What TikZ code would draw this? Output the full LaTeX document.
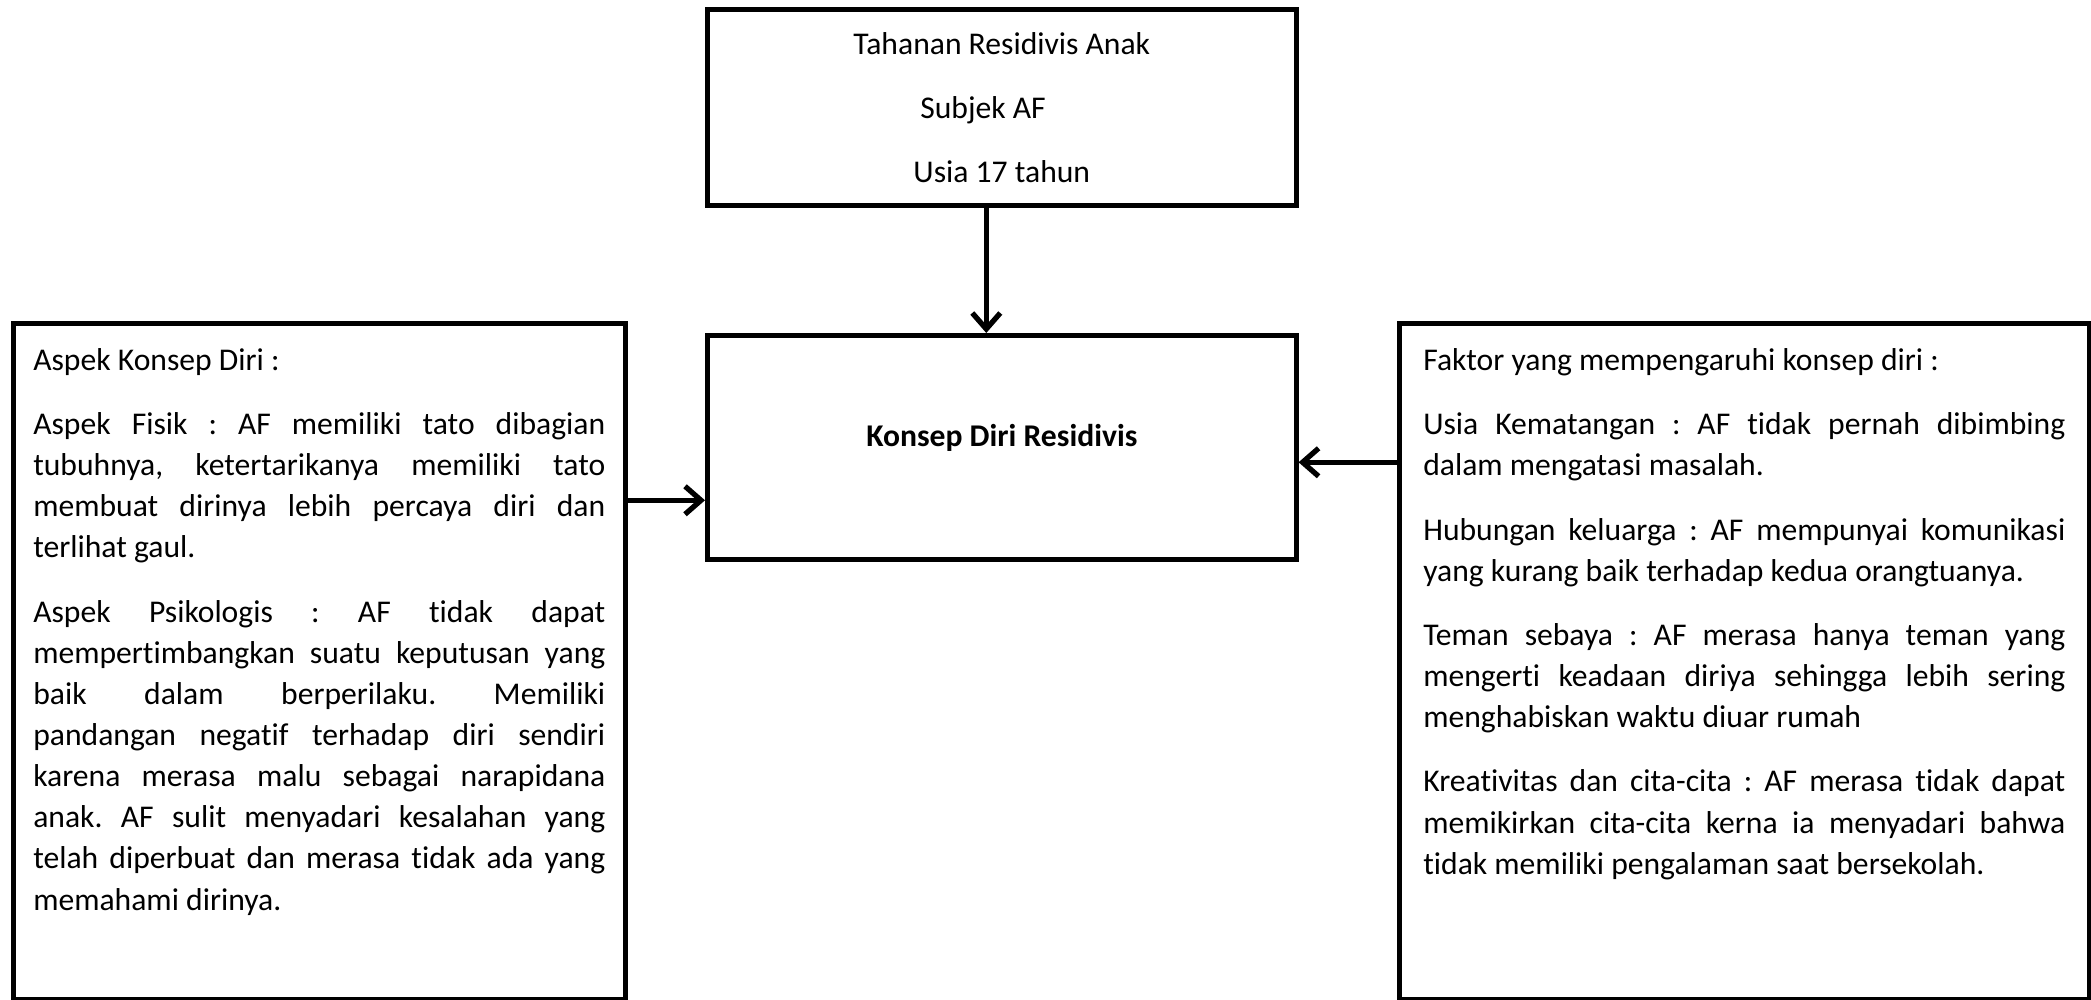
\documentclass[tikz,border=0pt]{standalone}
\usepackage{fontspec}
\setmainfont{Carlito}[Ligatures={TeX,NoCommon}]
\usetikzlibrary{arrows.meta}

% paragraf rata kiri-kanan tanpa pemenggalan
\newcommand{\aturpar}{\setlength{\parskip}{6.6pt}\hyphenpenalty=10000
  \exhyphenpenalty=10000\tolerance=10000\frenchspacing}

\begin{document}
\begin{tikzpicture}[
    kotak/.style={draw, line width=1.3pt, inner sep=0pt, anchor=north west,
      font=\fontsize{9pt}{11.7pt}\selectfont},
    panah/.style={-{Straight Barb[length=1.6mm,width=2.8mm]}, line width=1.5pt}]
  \useasboundingbox (0,0) rectangle (20.91,-10);
  % kotak atas
  \node[kotak, minimum width=5.89cm, minimum height=1.96cm, align=center,
    font=\fontsize{9pt}{18.2pt}\selectfont] (tahanan) at (7.05,-0.07)
    {Tahanan Residivis Anak\\ Subjek AF\hspace*{10.7pt}\mbox{}\\ Usia 17 tahun};
  % kotak tengah
  \node[kotak] (konsep) at (7.05,-3.33)
    {\begin{minipage}[c][2.24cm][t]{5.89cm}\centering
      \vspace*{0.89cm}\textbf{Konsep Diri Residivis}
    \end{minipage}};
  % kotak kiri
  \node[kotak, inner xsep=0.2cm, inner ysep=0.25cm] (aspek) at (0.11,-3.21)
    {\begin{minipage}[c][6.26cm][t]{5.72cm}\aturpar
      Aspek Konsep Diri :

      Aspek Fisik : AF memiliki tato dibagian\linebreak
      tubuhnya, ketertarikanya memiliki tato\linebreak
      membuat dirinya lebih percaya diri dan\linebreak
      terlihat gaul.

      Aspek Psikologis : AF tidak dapat\linebreak
      mempertimbangkan suatu keputusan yang\linebreak
      baik dalam berperilaku. Memiliki\linebreak
      pandangan negatif terhadap diri sendiri\linebreak
      karena merasa malu sebagai narapidana\linebreak
      anak. AF sulit menyadari kesalahan yang\linebreak
      telah diperbuat dan merasa tidak ada yang\linebreak
      memahami dirinya.
    \end{minipage}};
  % kotak kanan
  \node[kotak, inner xsep=0.24cm, inner ysep=0.25cm] (faktor) at (13.97,-3.21)
    {\begin{minipage}[c][6.26cm][t]{6.42cm}\aturpar
      Faktor yang mempengaruhi konsep diri :

      Usia Kematangan : AF tidak pernah dibimbing\linebreak
      dalam mengatasi masalah.

      Hubungan keluarga : AF mempunyai komunikasi\linebreak
      yang kurang baik terhadap kedua orangtuanya.

      Teman sebaya : AF merasa hanya teman yang\linebreak
      mengerti keadaan diriya sehingga lebih sering\linebreak
      menghabiskan waktu diuar rumah

      Kreativitas dan cita-cita : AF merasa tidak dapat\linebreak
      memikirkan cita-cita kerna ia menyadari bahwa\linebreak
      tidak memiliki pengalaman saat bersekolah.
    \end{minipage}};
  % panah
  \draw[panah] ([xshift=-1.55mm]tahanan.south) -- ([xshift=-1.55mm]konsep.north);
  \draw[panah] ([yshift=-5.3mm]konsep.west -| aspek.east) -- ([yshift=-5.3mm]konsep.west);
  \draw[panah] ([yshift=-1.5mm]konsep.east -| faktor.west) -- ([yshift=-1.5mm]konsep.east);
\end{tikzpicture}
\end{document}
